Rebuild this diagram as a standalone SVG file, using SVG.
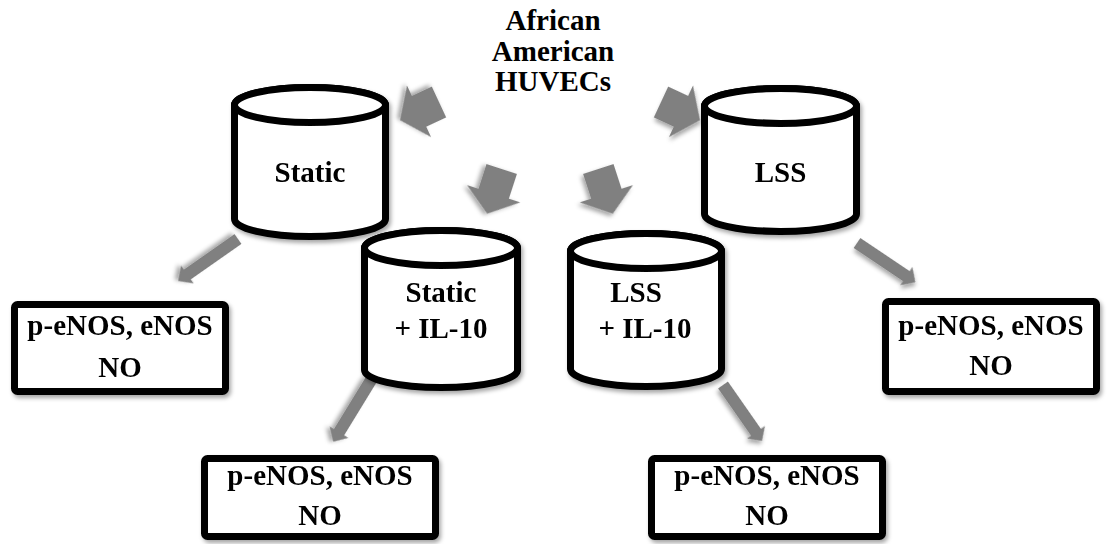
<svg xmlns="http://www.w3.org/2000/svg" width="1107" height="544" viewBox="0 0 1107 544">
<defs>
<filter id="sh" x="-20%" y="-20%" width="150%" height="150%">
<feDropShadow dx="2" dy="3" stdDeviation="2" flood-color="#000" flood-opacity="0.35"/>
</filter>
<path id="bigA" d="M0,-17 L22,-17 L22,-28.5 L43,0 L22,28.5 L22,17 L0,17 Z"/>
<path id="bigB" d="M0,-16 L26,-16 L26,-28 L47,0 L26,28 L26,16 L0,16 Z"/>
<path id="thin" d="M0,-6 L60,-6 L60,-11 L71,0 L60,11 L60,6 L0,6 Z"/>
</defs>
<style>
.t{font-family:"Liberation Serif","Times New Roman",serif;font-weight:bold;font-size:29px;fill:#000;text-anchor:middle}
.cyl{fill:#fff;stroke:#000;stroke-width:7;stroke-linejoin:round}
.box{fill:#fff;stroke:#000;stroke-width:7}
.arr{fill:#808080;stroke:none;filter:url(#sh)}
</style>
<rect width="1107" height="544" fill="#fff"/>

<g id="title">
<text class="t" x="553" y="30">African</text>
<text class="t" x="553" y="61">American</text>
<text class="t" x="553" y="91">HUVECs</text>
</g>

<g id="connectors">
<use href="#bigA" class="arr" transform="translate(439,102) rotate(155)"/>
<use href="#bigA" class="arr" transform="translate(661,102) rotate(25)"/>
<use href="#bigB" class="arr" transform="translate(501.7,169) rotate(108)"/>
<use href="#bigB" class="arr" transform="translate(598.3,169) rotate(72)"/>
<use href="#thin" class="arr" transform="translate(238,239) rotate(145) scale(1.03,1)"/>
<use href="#thin" class="arr" transform="translate(371,380) rotate(121.5) scale(1.02,1)"/>
<use href="#thin" class="arr" transform="translate(723,385) rotate(55.1) scale(0.96,1)"/>
<use href="#thin" class="arr" transform="translate(857,243) rotate(33.9) scale(0.99,1)"/>
</g>

<g id="static" filter="url(#sh)">
<path class="cyl" d="M234.5,105 V219 A75.5,17.5 0 0 0 385.5,219 V105 A75.5,17.5 0 0 0 234.5,105 Z"/>
<ellipse class="cyl" cx="310" cy="105" rx="75.5" ry="17.5"/>
<text class="t" x="310" y="182">Static</text>
</g>

<g id="lss" filter="url(#sh)">
<path class="cyl" d="M704.5,106 V214 A76,17.5 0 0 0 856.5,214 V106 A76,17.5 0 0 0 704.5,106 Z"/>
<ellipse class="cyl" cx="780.5" cy="106" rx="76" ry="17.5"/>
<text class="t" x="780.5" y="182">LSS</text>
</g>

<g id="static-il10" filter="url(#sh)">
<path class="cyl" d="M364.5,248 V370 A76.5,17.5 0 0 0 517.5,370 V248 A76.5,17.5 0 0 0 364.5,248 Z"/>
<ellipse class="cyl" cx="441" cy="248" rx="76.5" ry="17.5"/>
<text class="t" x="441" y="302">Static</text>
<text class="t" x="441" y="338">+ IL-10</text>
</g>

<g id="lss-il10" filter="url(#sh)">
<path class="cyl" d="M570.5,251 V369 A75.5,17.5 0 0 0 721.5,369 V251 A75.5,17.5 0 0 0 570.5,251 Z"/>
<ellipse class="cyl" cx="646" cy="251" rx="75.5" ry="17.5"/>
<text class="t" x="636" y="302">LSS</text>
<text class="t" x="645" y="338">+ IL-10</text>
</g>

<g id="box-static" filter="url(#sh)">
<rect class="box" x="14.5" y="304.5" width="211" height="87" rx="3"/>
<text class="t" x="120" y="335">p-eNOS, eNOS</text>
<text class="t" x="120" y="377">NO</text>
</g>

<g id="box-static-il10" filter="url(#sh)">
<rect class="box" x="204.5" y="458.5" width="231" height="78" rx="3"/>
<text class="t" x="320" y="485">p-eNOS, eNOS</text>
<text class="t" x="320" y="525">NO</text>
</g>

<g id="box-lss-il10" filter="url(#sh)">
<rect class="box" x="651.5" y="458.5" width="231" height="78" rx="3"/>
<text class="t" x="767" y="485">p-eNOS, eNOS</text>
<text class="t" x="767" y="525">NO</text>
</g>

<g id="box-lss" filter="url(#sh)">
<rect class="box" x="885.5" y="301.5" width="211" height="90" rx="3"/>
<text class="t" x="991" y="335">p-eNOS, eNOS</text>
<text class="t" x="991" y="375">NO</text>
</g>
</svg>
